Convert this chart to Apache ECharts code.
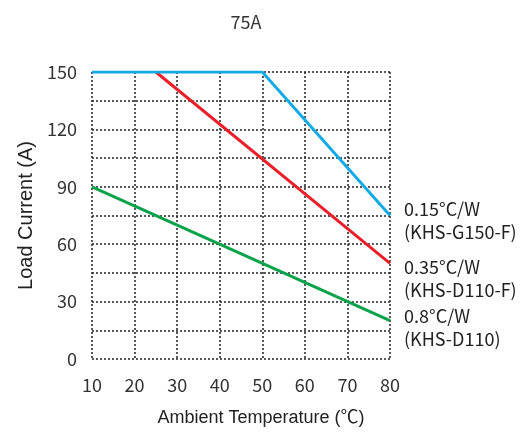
<!DOCTYPE html>
<html><head><meta charset="utf-8">
<script src="https://cdn.jsdelivr.net/npm/echarts@6/dist/echarts.min.js"></script>
<style>html,body{margin:0;padding:0;background:#fff}#c{width:530px;height:432px}</style>
</head><body><div id="c"></div>
<script>
const title = '75A';
const xName = 'Ambient Temperature (℃)';
const yName = 'Load Current (A)';
const blueX = [10, 50, 80];
const blueY = [150, 150, 75];
const redX = [25, 80];
const redY = [150, 50];
const greenX = [10, 80];
const greenY = [90, 20];
const blueLabel = ['0.15°C/W', '(KHS-G150-F)'];
const redLabel = ['0.35°C/W', '(KHS-D110-F)'];
const greenLabel = ['0.8°C/W', '(KHS-D110)'];

const font = '"Noto Sans CJK SC", "Noto Sans", sans-serif';
const sans = '"Liberation Sans", "Noto Sans CJK SC", Arial, sans-serif';
const pairs = (xs, ys) => xs.map((x, i) => [x, ys[i]]);
function mk(name, xs, ys, color, lbl, off) {
  return {
    type: 'line', name, data: pairs(xs, ys), symbol: 'none',
    lineStyle: { color, width: 3 },
    endLabel: {
      show: true, formatter: lbl.join('\n'), color: '#222',
      fontSize: 18, fontFamily: font, lineHeight: 23,
      align: 'left', verticalAlign: 'middle', offset: off
    },
    z: 5
  };
}
const chart = echarts.init(document.getElementById('c'), null, { renderer: 'canvas' });
chart.setOption({
  animation: false,
  title: { text: title, left: 241, top: 8, textAlign: 'center',
    textStyle: { fontSize: 18, fontWeight: 'normal', color: '#333', fontFamily: font } },
  grid: { left: 92, right: 140, top: 72, bottom: 72 },
  xAxis: {
    type: 'value', min: 10, max: 80, interval: 10,
    name: xName, nameLocation: 'middle', nameGap: 50,
    nameTextStyle: { fontSize: 18, color: '#222', fontFamily: sans, padding: [0, 0, 0, 40] },
    axisLine: { show: false }, axisTick: { show: false },
    axisLabel: { fontSize: 18, color: '#333', margin: 17, fontFamily: font },
    splitLine: { show: true, lineStyle: { color: '#222', type: [2, 2], width: 1.5 } }
  },
  yAxis: {
    type: 'value', min: 0, max: 150, interval: 15,
    name: yName, nameLocation: 'middle', nameGap: 54,
    nameTextStyle: { fontSize: 20, color: '#222', fontFamily: sans },
    axisLine: { show: false }, axisTick: { show: false },
    axisLabel: { fontSize: 18, color: '#333', margin: 15, fontFamily: font,
      formatter: v => (v % 30 === 0 ? String(v) : '') },
    splitLine: { show: true, lineStyle: { color: '#222', type: [2, 2], width: 1.5 } }
  },
  series: [
    mk('green', greenX, greenY, '#0aa24a', greenLabel, [6, 7]),
    mk('red', redX, redY, '#ea1f29', redLabel, [6, 15]),
    mk('blue', blueX, blueY, '#12abe6', blueLabel, [6, 5])
  ]
});
</script></body></html>
